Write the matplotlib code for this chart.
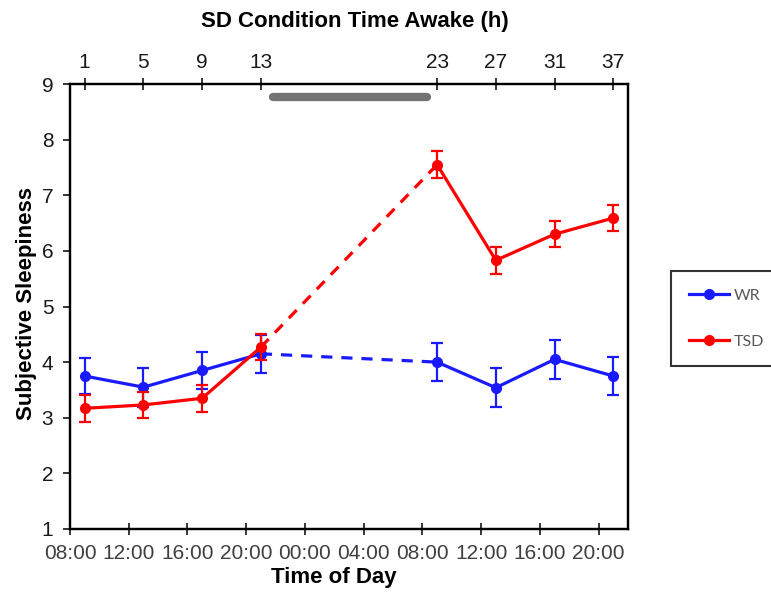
import matplotlib
matplotlib.use("Agg")
import matplotlib.pyplot as plt

plt.rcParams["font.family"] = ["Liberation Sans", "DejaVu Sans"]

# hours since 08:00 on day 1
hours = [1, 5, 9, 13, 25, 29, 33, 37]
awake_labels = ["1", "5", "9", "13", "23", "27", "31", "37"]
clock_ticks = [0, 4, 8, 12, 16, 20, 24, 28, 32, 36]
clock_labels = ["08:00", "12:00", "16:00", "20:00", "00:00", "04:00",
                "08:00", "12:00", "16:00", "20:00"]

wr_mean = [3.75, 3.55, 3.85, 4.15, 4.00, 3.54, 4.05, 3.75]
wr_err = [0.33, 0.35, 0.34, 0.34, 0.34, 0.35, 0.345, 0.335]
tsd_mean = [3.17, 3.23, 3.35, 4.27, 7.55, 5.83, 6.30, 6.59]
tsd_err = [0.245, 0.235, 0.245, 0.24, 0.245, 0.24, 0.235, 0.24]

# sleep deprivation night bar
sd_bar_x = [13.8, 24.3]
sd_bar_y = [8.77, 8.77]

BLUE = "#1a1aff"
RED = "#ff0000"

fig = plt.figure(figsize=(7.71, 5.92), dpi=100)
ax = fig.add_axes([70 / 771, 1 - 529 / 592, (628 - 70) / 771, (529 - 84) / 592])


def draw_series(mean, err, color, z):
    ax.errorbar(hours, mean, yerr=err, fmt="none", ecolor=color,
                elinewidth=1.6, capsize=4.5, capthick=1.6, zorder=z)
    ax.plot(hours[:4], mean[:4], color=color, lw=2.3, marker="o", ms=7, zorder=z)
    ax.plot(hours[4:], mean[4:], color=color, lw=2.3, marker="o", ms=7, zorder=z)
    ax.plot(hours[3:5], mean[3:5], color=color, lw=2.3, ls=(0, (3.5, 2.8)), zorder=z)


draw_series(wr_mean, wr_err, BLUE, 3)
draw_series(tsd_mean, tsd_err, RED, 4)

ax.plot(sd_bar_x, sd_bar_y, color="#737373", lw=6, solid_capstyle="round", zorder=2)

ax.set_xlim(0, 38)
ax.set_ylim(1, 9)
ax.set_xticks(clock_ticks)
ax.set_xticklabels(clock_labels)
ax.set_yticks(range(1, 10))

for s in ax.spines.values():
    s.set_linewidth(1.6)

ax.tick_params(axis="x", direction="inout", length=8, width=1.1, pad=7,
               labelsize=15, labelcolor="#404040")
ax.tick_params(axis="y", direction="out", length=5, width=1.1, pad=7,
               labelsize=15, labelcolor="#1a1a1a")

ax2 = ax.twiny()
ax2.set_xlim(ax.get_xlim())
ax2.set_xticks(hours)
ax2.set_xticklabels(awake_labels)
ax2.tick_params(axis="x", direction="inout", length=8, width=1.1, pad=5,
                labelsize=15, labelcolor="#1a1a1a")
for s in ax2.spines.values():
    s.set_linewidth(1.6)

fig.text(355 / 771, 1 - 22 / 592, "SD Condition Time Awake (h)", ha="center",
         va="center", fontsize=16, fontweight="bold")
fig.text(334 / 771, 1 - 578 / 592, "Time of Day", ha="center", va="center",
         fontsize=16, fontweight="bold")
fig.text(27 / 771, 1 - 304 / 592, "Subjective Sleepiness", ha="center",
         va="center", rotation=90, fontsize=16, fontweight="bold")

h1, = ax.plot([], [], color=BLUE, lw=2.3, marker="o", ms=7)
h2, = ax.plot([], [], color=RED, lw=2.3, marker="o", ms=7)
leg = fig.legend([h1, h2], ["WR", "TSD"], loc="upper left",
                 bbox_to_anchor=(671 / 771, 1 - 271 / 592),
                 frameon=True, fancybox=False, edgecolor="black",
                 prop={"family": "Lato", "size": 11.5}, labelcolor="#595959",
                 handlelength=2.5, handletextpad=0.3, labelspacing=2.0,
                 borderpad=1.1, borderaxespad=0)
leg.get_frame().set_linewidth(1.5)

fig.savefig("out.png", dpi=100)
